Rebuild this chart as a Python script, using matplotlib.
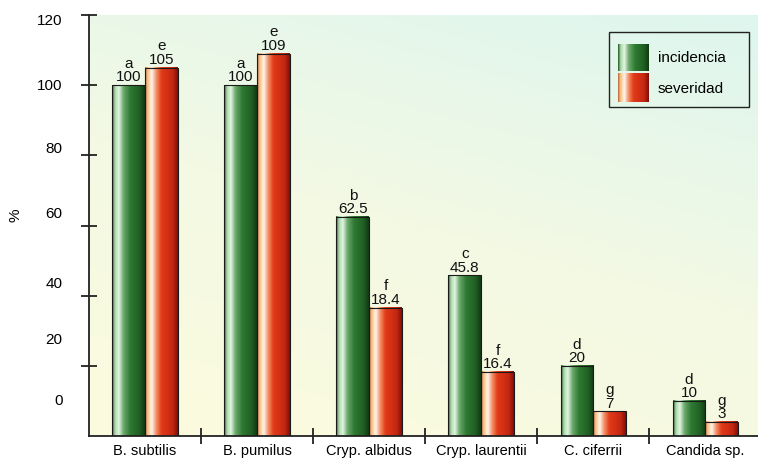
import numpy as np
import matplotlib.pyplot as plt
from matplotlib.colors import LinearSegmentedColormap
from matplotlib.patches import Rectangle

plt.rcParams['font.family'] = ['Liberation Sans', 'DejaVu Sans']

# data
species = ["B. subtilis", "B. pumilus", "Cryp. albidus", "Cryp. laurentii", "C. ciferrii", "Candida sp."]
incidencia = [100, 100, 62.5, 45.8, 20, 10]
severidad = [105, 109, 36.6, 18.3, 7, 4]          # bar heights as drawn
incid_text = ["100", "100", "62.5", "45.8", "20", "10"]
sever_text = ["105", "109", "18.4", "16.4", "7", "3"]   # printed values
incid_letters = ["a", "a", "b", "c", "d", "d"]
sever_letters = ["e", "e", "f", "f", "g", "g"]
ytick_labels = ["0", "20", "40", "60", "80", "100", "120"]
ylabel_pos = [10.6, 28, 44, 64, 82.6, 100.6, 119]   # labels sit a bit off their ticks in the original

green_cm = LinearSegmentedColormap.from_list("g", [
    (0.0, "#2e5e2e"), (0.08, "#a8d8a8"), (0.2, "#e4f6e4"), (0.35, "#6aa86a"),
    (0.55, "#2f7a33"), (0.85, "#1f5e22"), (1.0, "#123a14")])
red_cm = LinearSegmentedColormap.from_list("r", [
    (0.0, "#b86a3a"), (0.06, "#f6b878"), (0.2, "#fff6ec"), (0.35, "#f08a60"),
    (0.5, "#e23a18"), (0.85, "#c42612"), (1.0, "#801008")])
bg_cm = LinearSegmentedColormap.from_list("bg", ["#fcfbde", "#f3f9e4", "#def6ee"])


def gradient_bars(ax, bars, cmap):
    grad = np.linspace(0, 1, 64).reshape(1, -1)
    for b in bars:
        x0, y0, w, h = b.get_x(), b.get_y(), b.get_width(), b.get_height()
        ax.imshow(grad, extent=[x0, x0 + w, y0, y0 + h], aspect='auto',
                  cmap=cmap, zorder=2, interpolation='bicubic')
        ax.add_patch(Rectangle((x0, y0), w, h, fill=False, edgecolor="#1a1a1a",
                               linewidth=0.8, zorder=3))


def bar_labels(ax, xs, heights, letters, values):
    for x, h, l, v in zip(xs, heights, letters, values):
        ax.text(x, h + 0.5, l + "\n" + v, ha='center', va='bottom', fontsize=11,
                linespacing=0.95, color="#111111", zorder=4)


def main():
    fig = plt.figure(figsize=(7.58, 4.6), dpi=100)
    ax = fig.add_axes([89 / 758, 23 / 460, 669 / 758, 421 / 460])

    # background wash
    yy, xx = np.mgrid[0:1:100j, 0:1:100j]
    ax.imshow(0.7 * yy + 0.3 * xx, extent=[0, 1, 0, 1], transform=ax.transAxes,
              origin='lower', aspect='auto', cmap=bg_cm, zorder=0)

    x = np.arange(len(species))
    w = 0.292
    gb = ax.bar(x - w / 2, incidencia, w, color='none', zorder=2)
    rb = ax.bar(x + w / 2, severidad, w, color='none', zorder=2)
    gradient_bars(ax, gb, green_cm)
    gradient_bars(ax, rb, red_cm)
    bar_labels(ax, x - w / 2, incidencia, incid_letters, incid_text)
    bar_labels(ax, x + w / 2, severidad, sever_letters, sever_text)

    for s in ['top', 'right']:
        ax.spines[s].set_visible(False)
    for s in ['left', 'bottom']:
        ax.spines[s].set_linewidth(1.3)
        ax.spines[s].set_color("#222222")

    ax.set_yticks(np.arange(20, 121, 20), [""] * 6)
    ax.set_yticks(ylabel_pos, ytick_labels, minor=True)
    ax.tick_params(axis='y', which='major', direction='inout', length=12, width=1.3, color="#222222")
    ax.tick_params(axis='y', which='minor', length=0, pad=19, labelsize=11)

    ax.set_xticks(np.arange(0.5, 5, 1), [""] * 5)
    ax.set_xticks(x, species, minor=True)
    ax.tick_params(axis='x', which='major', direction='inout', length=11, width=1.3, color="#222222")
    ax.tick_params(axis='x', which='minor', length=0, pad=5, labelsize=10.5)

    ax.text(-0.11, 0.527, "%", transform=ax.transAxes, rotation=90,
            ha='center', va='center', fontsize=11)

    # legend box
    ax.add_patch(Rectangle((0.778, 0.781), 0.209, 0.179, transform=ax.transAxes,
                           fill=False, edgecolor="#222222", linewidth=1.0, zorder=5))
    grad = np.linspace(0, 1, 64).reshape(1, -1)
    ax.imshow(grad, extent=[0.790, 0.835, 0.867, 0.931], transform=ax.transAxes,
              aspect='auto', cmap=green_cm, zorder=5)
    ax.imshow(grad, extent=[0.790, 0.835, 0.793, 0.860], transform=ax.transAxes,
              aspect='auto', cmap=red_cm, zorder=5)
    ax.text(0.850, 0.900, "incidencia", transform=ax.transAxes, va='center', fontsize=11, zorder=6)
    ax.text(0.850, 0.827, "severidad", transform=ax.transAxes, va='center', fontsize=11, zorder=6)

    ax.set_xlim(-0.5, 5.47)
    ax.set_ylim(0, 120)
    fig.savefig("out.png", dpi=100)


if __name__ == "__main__":
    main()
